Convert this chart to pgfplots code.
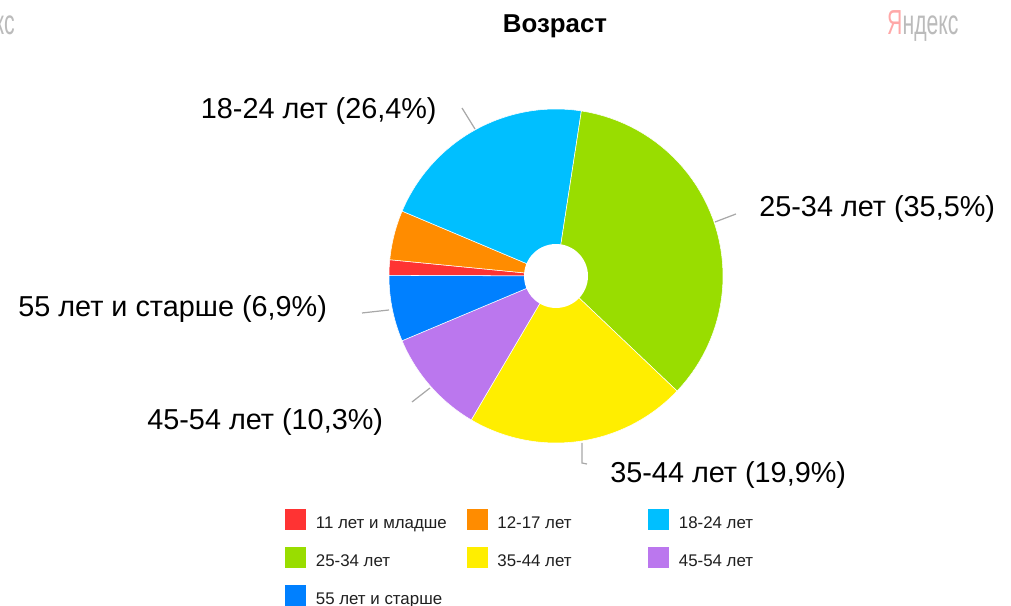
\documentclass[border=0pt]{standalone}
\usepackage{pgfplots}
\pgfplotsset{compat=1.18}
\usepackage{fontspec}
\setmainfont{Liberation Sans}
\definecolor{cred}{HTML}{FF3333}
\definecolor{corange}{HTML}{FF8C00}
\definecolor{clblue}{HTML}{00BFFF}
\definecolor{cgreen}{HTML}{99DD00}
\definecolor{cyellow}{HTML}{FFEE00}
\definecolor{cpurple}{HTML}{BB77EE}
\definecolor{cblue}{HTML}{0080FF}
\definecolor{lead}{HTML}{A8A8A8}
\definecolor{yared}{HTML}{FFA8A8}
\definecolor{yagray}{HTML}{BBBBBB}
\newcommand\lentry[1]{\makebox[2.82cm][l]{#1}}
\newcommand\labfont{\fontsize{16.4}{19}\selectfont}
\begin{document}
\begin{tikzpicture}
\path[use as bounding box, clip] (0,0) rectangle (20.22cm,12.12cm);
\begin{axis}[
  at={(0,0)}, anchor=south west,
  scale only axis, width=20.22cm, height=12.12cm,
  xmin=0, xmax=1011, ymin=-606, ymax=0,
  hide axis, clip=false,
  legend columns=3,
  legend style={at={(axis cs:284,-508)}, anchor=north west, draw=none, fill=none,
    inner sep=0pt, column sep=0.18cm, row sep=0.31cm,
    nodes={inner sep=0pt, font=\fontsize{9.6}{11}\selectfont, text=black!88}},
  legend image code/.code={\fill[#1] (0cm,-0.14cm) rectangle (0.44cm,0.30cm);},
  legend entries={\lentry{11 лет и младше},\lentry{12-17 лет},\lentry{18-24 лет},
    \lentry{25-34 лет},\lentry{35-44 лет},\lentry{45-54 лет},\lentry{55 лет и старше}},
]
\xdef\acc{-180.2}
\foreach \p/\c in {1.5/cred,4.8/corange,21.1/clblue,34.7/cgreen,21.4/cyellow,10.2/cpurple,6.4/cblue}{
  \pgfmathsetmacro\aend{\acc-\p*360/100.1}
  \edef\cmd{\noexpand\addplot[fill=\c, draw=white, line width=0.3pt, domain=\aend:\acc, samples=50] ({556+167*cos(x)},{-276+167*sin(x)}) -- (axis cs:556,-276) -- cycle;}
  \cmd
  \xdef\acc{\aend}
}
% hole
\addplot[fill=white, draw=none, domain=0:360, samples=60] ({556+32*cos(x)},{-276+32*sin(x)}) -- cycle;
% leader lines
\addplot[lead, line width=0.7pt] coordinates {(462,-108) (475,-129)};
\addplot[lead, line width=0.7pt] coordinates {(715,-222) (736,-214)};
\addplot[lead, line width=0.7pt] coordinates {(362,-313) (389,-310)};
\addplot[lead, line width=0.7pt] coordinates {(412,-402) (430,-388)};
\addplot[lead, line width=0.7pt] coordinates {(582,-443) (582,-463) (587,-464)};
% labels
\node[anchor=base east, inner sep=0pt, font=\labfont] at (axis cs:437,-119) {18-24 лет (26,4\%)};
\node[anchor=base west, inner sep=0pt, font=\labfont] at (axis cs:759,-217) {25-34 лет (35,5\%)};
\node[anchor=base west, inner sep=0pt, font=\labfont] at (axis cs:18,-317) {55 лет и старше (6,9\%)};
\node[anchor=base west, inner sep=0pt, font=\labfont] at (axis cs:147,-430) {45-54 лет (10,3\%)};
\node[anchor=base west, inner sep=0pt, font=\labfont] at (axis cs:610,-483) {35-44 лет (19,9\%)};
% title
\node[anchor=base, inner sep=0pt, font=\fontsize{14.7}{17}\selectfont\bfseries] at (axis cs:555,-33) {Возраст};
% watermarks
\node[anchor=base west, inner sep=0pt, xscale=0.61, font=\fontsize{19.8}{22}\selectfont] at (axis cs:887,-35) {\textcolor{yared}{Я}\textcolor{yagray}{ндекс}};
\node[anchor=base east, inner sep=0pt, xscale=0.61, font=\fontsize{19.8}{22}\selectfont] at (axis cs:15,-35) {\textcolor{yared}{Я}\textcolor{yagray}{ндекс}};
\end{axis}
\end{tikzpicture}
\end{document}
